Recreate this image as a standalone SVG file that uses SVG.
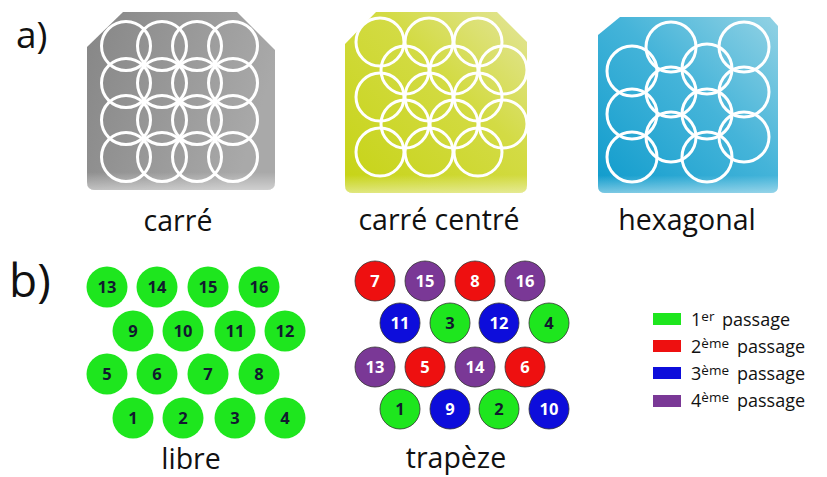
<svg xmlns="http://www.w3.org/2000/svg" width="827" height="477" viewBox="0 0 827 477">
<defs>
<linearGradient id="gGray" x1="0" y1="0" x2="1" y2="0.3">
<stop offset="0" stop-color="#868686"/><stop offset="1" stop-color="#a9a9a9"/>
</linearGradient>
<linearGradient id="gYel" x1="0" y1="1" x2="1" y2="0">
<stop offset="0" stop-color="#c6d314"/><stop offset="0.6" stop-color="#d3db44"/><stop offset="1" stop-color="#e3e59a"/>
</linearGradient>
<linearGradient id="gBlue" x1="0" y1="1" x2="1" y2="0">
<stop offset="0" stop-color="#0e9bcc"/><stop offset="0.55" stop-color="#45b4d9"/><stop offset="1" stop-color="#92d2e4"/>
</linearGradient>
<linearGradient id="gFade" x1="0" y1="0" x2="0" y2="1">
<stop offset="0.9" stop-color="#ffffff" stop-opacity="0"/><stop offset="1" stop-color="#ffffff" stop-opacity="0.45"/>
</linearGradient>
<style>
.lbl{font-family:"Open Sans","Liberation Sans",sans-serif;font-size:28.5px;fill:#111;text-anchor:middle}
.big{font-family:"Open Sans","Liberation Sans",sans-serif;fill:#111}
.ring{fill:none;stroke:#fff;stroke-width:3}
.num{font-family:"Open Sans","Liberation Sans",sans-serif;font-size:16.5px;font-weight:bold;text-anchor:middle}
.dk{fill:#111a2e}
.wt{fill:#fff}
.g{fill:#1ee61e}
.r{fill:#ee1010}
.b{fill:#0d0ddb}
.p{fill:#7a3896}
.tr circle{stroke:#333;stroke-width:0.8}
.leg{font-family:"Open Sans","Liberation Sans",sans-serif;font-size:18px;fill:#111}
.sup{font-size:13.5px}
</style>
</defs>

<text class="big" x="16" y="48" font-size="37">a)</text>
<text class="big" x="9" y="297" font-size="46">b)</text>

<g id="carre">
<path d="M87,47 L123,12 L237,12 L275,50 L275,182 Q275,190 267,190 L95,190 Q87,190 87,182 Z" fill="url(#gGray)"/>
<path d="M87,47 L123,12 L237,12 L275,50 L275,182 Q275,190 267,190 L95,190 Q87,190 87,182 Z" fill="url(#gFade)"/>
<g class="ring">
<circle cx="126" cy="46" r="24.5"/><circle cx="162" cy="46" r="24.5"/><circle cx="197" cy="46" r="24.5"/><circle cx="233" cy="46" r="24.5"/>
<circle cx="126" cy="83" r="24.5"/><circle cx="162" cy="83" r="24.5"/><circle cx="197" cy="83" r="24.5"/><circle cx="233" cy="83" r="24.5"/>
<circle cx="126" cy="120" r="24.5"/><circle cx="162" cy="120" r="24.5"/><circle cx="197" cy="120" r="24.5"/><circle cx="233" cy="120" r="24.5"/>
<circle cx="126" cy="157" r="24.5"/><circle cx="162" cy="157" r="24.5"/><circle cx="197" cy="157" r="24.5"/><circle cx="233" cy="157" r="24.5"/>
</g>
<text class="lbl" x="178" y="231">carré</text>
</g>

<g id="carre-centre">
<path d="M345,44 L376,12 L497,12 L527,42 L527,185 Q527,193 519,193 L353,193 Q345,193 345,185 Z" fill="url(#gYel)"/>
<path d="M345,44 L376,12 L497,12 L527,42 L527,185 Q527,193 519,193 L353,193 Q345,193 345,185 Z" fill="url(#gFade)"/>
<g class="ring">
<circle cx="380" cy="42" r="24"/><circle cx="429" cy="42" r="24"/><circle cx="478" cy="42" r="24"/>
<circle cx="380" cy="97" r="24"/><circle cx="429" cy="97" r="24"/><circle cx="478" cy="97" r="24"/>
<circle cx="380" cy="152" r="24"/><circle cx="429" cy="152" r="24"/><circle cx="478" cy="152" r="24"/>
<circle cx="405" cy="70" r="24"/><circle cx="454" cy="70" r="24"/><circle cx="503" cy="70" r="24"/>
<circle cx="405" cy="124" r="24"/><circle cx="454" cy="124" r="24"/><circle cx="503" cy="124" r="24"/>
</g>
<text class="lbl" x="439" y="230">carré centré</text>
</g>

<g id="hexagonal">
<path d="M598,35 L620,17 L770,17 L778,26 L778,186 Q778,193 771,193 L605,193 Q598,193 598,186 Z" fill="url(#gBlue)"/>
<path d="M598,35 L620,17 L770,17 L778,26 L778,186 Q778,193 771,193 L605,193 Q598,193 598,186 Z" fill="url(#gFade)"/>
<g class="ring">
<circle cx="671" cy="47" r="25"/><circle cx="744" cy="47" r="25"/>
<circle cx="632" cy="71" r="25"/><circle cx="707" cy="69" r="25"/>
<circle cx="671" cy="92" r="25"/><circle cx="744" cy="92" r="25"/>
<circle cx="632" cy="114" r="25"/><circle cx="707" cy="114" r="25"/>
<circle cx="671" cy="137" r="25"/><circle cx="744" cy="137" r="25"/>
<circle cx="632" cy="157" r="25"/><circle cx="707" cy="157" r="25"/>
</g>
<text class="lbl" x="687" y="230">hexagonal</text>
</g>

<g id="libre">
<g class="g">
<circle cx="107" cy="287" r="20.5"/><circle cx="157" cy="287" r="20.5"/><circle cx="208" cy="287" r="20.5"/><circle cx="259" cy="287" r="20.5"/>
<circle cx="133" cy="331" r="20.5"/><circle cx="183" cy="331" r="20.5"/><circle cx="235" cy="331" r="20.5"/><circle cx="285" cy="331" r="20.5"/>
<circle cx="107" cy="374" r="20.5"/><circle cx="157" cy="374" r="20.5"/><circle cx="208" cy="374" r="20.5"/><circle cx="259" cy="374" r="20.5"/>
<circle cx="133" cy="418" r="20.5"/><circle cx="183" cy="418" r="20.5"/><circle cx="235" cy="418" r="20.5"/><circle cx="285" cy="418" r="20.5"/>
</g>
<g class="num dk">
<text x="107" y="293">13</text><text x="157" y="293">14</text><text x="208" y="293">15</text><text x="259" y="293">16</text>
<text x="133" y="337">9</text><text x="183" y="337">10</text><text x="235" y="337">11</text><text x="285" y="337">12</text>
<text x="107" y="380">5</text><text x="157" y="380">6</text><text x="208" y="380">7</text><text x="259" y="380">8</text>
<text x="133" y="424">1</text><text x="183" y="424">2</text><text x="235" y="424">3</text><text x="285" y="424">4</text>
</g>
<text class="lbl" x="191" y="469">libre</text>
</g>

<g id="trapeze" class="tr">
<circle class="r" cx="375" cy="281" r="20"/><circle class="p" cx="425" cy="281" r="20"/><circle class="r" cx="475" cy="281" r="20"/><circle class="p" cx="525" cy="281" r="20"/>
<circle class="b" cx="400" cy="323" r="20"/><circle class="g" cx="450" cy="323" r="20"/><circle class="b" cx="499" cy="323" r="20"/><circle class="g" cx="549" cy="323" r="20"/>
<circle class="p" cx="375" cy="367" r="20"/><circle class="r" cx="425" cy="367" r="20"/><circle class="p" cx="475" cy="367" r="20"/><circle class="r" cx="525" cy="367" r="20"/>
<circle class="g" cx="400" cy="409" r="20"/><circle class="b" cx="450" cy="409" r="20"/><circle class="g" cx="499" cy="409" r="20"/><circle class="b" cx="549" cy="409" r="20"/>
<g class="num">
<text class="wt" x="375" y="287">7</text><text class="wt" x="425" y="287">15</text><text class="wt" x="475" y="287">8</text><text class="wt" x="525" y="287">16</text>
<text class="wt" x="400" y="329">11</text><text class="dk" x="450" y="329">3</text><text class="wt" x="499" y="329">12</text><text class="dk" x="549" y="329">4</text>
<text class="wt" x="375" y="373">13</text><text class="wt" x="425" y="373">5</text><text class="wt" x="475" y="373">14</text><text class="wt" x="525" y="373">6</text>
<text class="dk" x="400" y="415">1</text><text class="wt" x="450" y="415">9</text><text class="dk" x="499" y="415">2</text><text class="wt" x="549" y="415">10</text>
</g>
<text class="lbl" x="456" y="468">trapèze</text>
</g>

<g id="legende">
<rect class="g" x="653" y="313" width="28" height="12"/>
<rect class="r" x="653" y="340" width="28" height="12"/>
<rect class="b" x="653" y="367" width="28" height="12"/>
<rect class="p" x="653" y="395" width="28" height="12"/>
<text class="leg" x="691" y="326">1<tspan class="sup" dy="-5">er</tspan><tspan x="722" dy="5">passage</tspan></text>
<text class="leg" x="691" y="353">2<tspan class="sup" dy="-5">ème</tspan><tspan x="737" dy="5">passage</tspan></text>
<text class="leg" x="691" y="380">3<tspan class="sup" dy="-5">ème</tspan><tspan x="737" dy="5">passage</tspan></text>
<text class="leg" x="691" y="407">4<tspan class="sup" dy="-5">ème</tspan><tspan x="737" dy="5">passage</tspan></text>
</g>
</svg>
